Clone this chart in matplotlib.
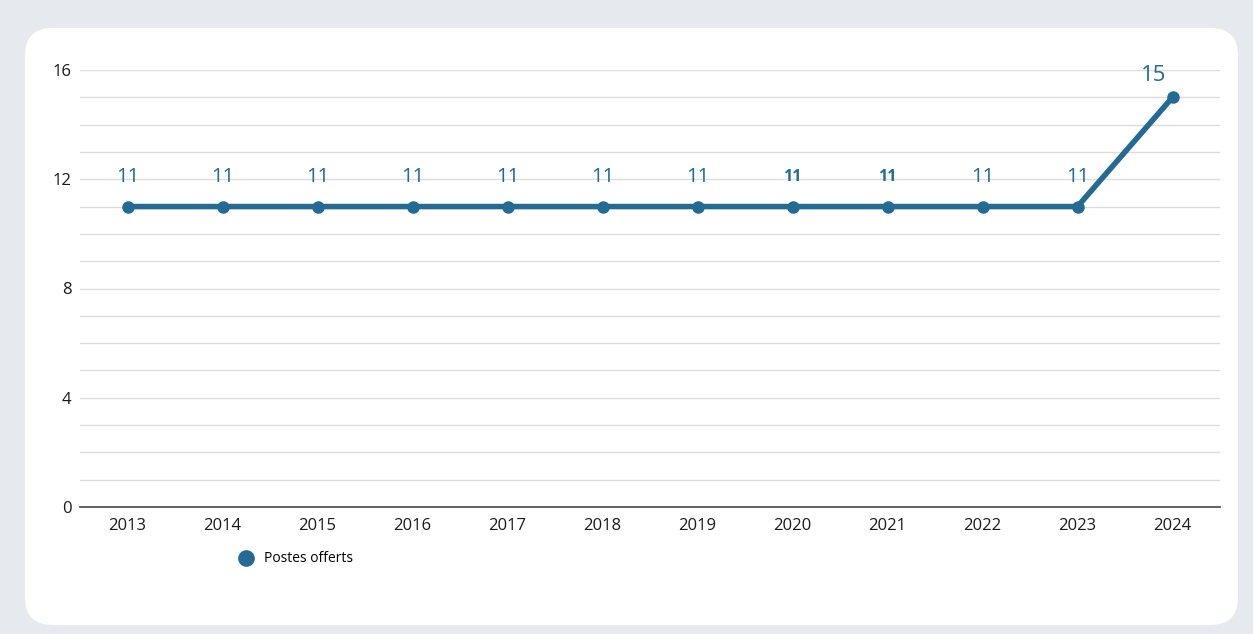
import matplotlib
matplotlib.use("Agg")
import matplotlib.pyplot as plt
from matplotlib.patches import FancyBboxPatch
from matplotlib.lines import Line2D

years = ["2013", "2014", "2015", "2016", "2017", "2018", "2019", "2020", "2021", "2022", "2023", "2024"]
postes = [11, 11, 11, 11, 11, 11, 11, 11, 11, 11, 11, 15]
series_name = "Postes offerts"
yticks = [0, 4, 8, 12, 16]

plt.rcParams["font.family"] = ["Open Sans", "DejaVu Sans"]

W, H = 1253, 634
fig = plt.figure(figsize=(W / 100, H / 100), dpi=100)
fig.patch.set_facecolor("#e6e9ee")

card = FancyBboxPatch((25 / W, 9 / H), (1238 - 25) / W, (606 - 9) / H,
                      boxstyle="round,pad=0,rounding_size=0.022",
                      transform=fig.transFigure, facecolor="white",
                      edgecolor="none", mutation_aspect=W / H, zorder=-5)
fig.patches.append(card)

color = "#256a93"
ax = fig.add_axes([80 / W, (H - 507) / H, (1220 - 80) / W, (507 - 70) / H])
ax.set_zorder(2)
ax.set_facecolor("none")
x = list(range(len(years)))
ax.plot(x, postes, color=color, lw=4, marker="o", ms=8, zorder=3, solid_capstyle="round", clip_on=False)

ax.set_xlim(-0.5, len(years) - 0.5)
ax.set_ylim(0, 16)
ax.set_yticks(yticks)
ax.set_yticks(range(0, 17), minor=True)
ax.grid(True, which="both", axis="y", color="#dcdcdc", lw=1)
ax.set_axisbelow(True)
for s in ["top", "right", "left"]:
    ax.spines[s].set_visible(False)
ax.spines["bottom"].set_color("#555555")
ax.spines["bottom"].set_linewidth(1.3)
ax.tick_params(axis="both", which="both", length=0, labelcolor="#1a1a1a")
ax.tick_params(axis="y", labelsize=12, pad=6)
ax.tick_params(axis="x", labelsize=12, pad=8)
ax.set_xticks(x)
ax.set_xticklabels(years)

for i, v in enumerate(postes):
    if years[i] == "2024":
        ax.text(i - 0.2, v + 0.4, str(v), ha="center", va="bottom", fontsize=16, color=color)
    elif years[i] in ("2020", "2021"):
        ax.text(i, v + 0.78, str(v), ha="center", va="bottom", fontsize=11.5, color=color, fontweight="bold")
    else:
        ax.text(i, v + 0.7, str(v), ha="center", va="bottom", fontsize=14.5, color=color)

handle = Line2D([], [], color=color, marker="o", ls="none", ms=11)
fig.legend([handle], [series_name], loc="center left", bbox_to_anchor=(227 / W, 1 - 559 / H),
           frameon=False, fontsize=10, handletextpad=0.3, borderaxespad=0)

fig.savefig("out.png", dpi=100, facecolor=fig.get_facecolor())
